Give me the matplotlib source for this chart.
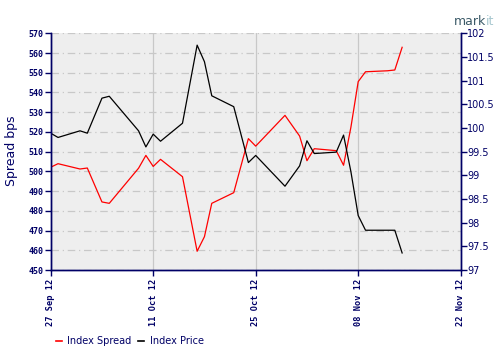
import pandas as pd
import matplotlib
matplotlib.use("Agg")
import matplotlib.pyplot as plt
import matplotlib.dates as mdates
from matplotlib.lines import Line2D

# trading dates of the visible vertices
dates = ["2012-09-27", "2012-09-28", "2012-10-01", "2012-10-02", "2012-10-04",
         "2012-10-05", "2012-10-09", "2012-10-10", "2012-10-11", "2012-10-12",
         "2012-10-15", "2012-10-17", "2012-10-18", "2012-10-19", "2012-10-22",
         "2012-10-24", "2012-10-25", "2012-10-29", "2012-10-31", "2012-11-01",
         "2012-11-02", "2012-11-05", "2012-11-06", "2012-11-07", "2012-11-08",
         "2012-11-09", "2012-11-12", "2012-11-13", "2012-11-14"]

# Index Spread (bps, left axis)
spread = [502.1, 503.9, 501.2, 501.7, 484.5, 483.8, 501.6, 508.1, 502.5, 506.1,
          497.3, 459.5, 466.9, 483.8, 489.2, 516.6, 512.8, 528.4, 517.9, 505.4,
          511.5, 510.5, 503.1, 522.3, 545.5, 550.5, 551.0, 551.4, 562.9]

# Index Price (right axis)
price = [99.89, 99.80, 99.94, 99.89, 100.63, 100.67, 99.94, 99.60, 99.87, 99.72,
         100.10, 101.75, 101.40, 100.68, 100.45, 99.27, 99.42, 98.77, 99.20, 99.73,
         99.46, 99.49, 99.85, 99.08, 98.15, 97.84, 97.84, 97.84, 97.36]

tick_dates = ["2012-09-27", "2012-10-11", "2012-10-25", "2012-11-08", "2012-11-22"]

x = pd.to_datetime(dates)
navy = "#000066"

fig = plt.figure(figsize=(5, 3.6), dpi=100)
ax = fig.add_axes([0.1014, 0.25, 0.82, 0.6575])
ax2 = ax.twinx()

ax.set_facecolor("#eeeeee")
ax.plot(x, spread, color="red", lw=0.9)
ax2.plot(x, price, color="black", lw=0.9)

ax.set_xlim(pd.Timestamp("2012-09-27"), pd.Timestamp("2012-11-22"))
ax.set_ylim(450, 570)
ax2.set_ylim(97, 102)
ax.set_yticks(range(450, 571, 10))
ax2.set_yticks([97, 97.5, 98, 98.5, 99, 99.5, 100, 100.5, 101, 101.5, 102])
ax2.set_yticklabels(["97", "97.5", "98", "98.5", "99", "99.5", "100", "100.5",
                     "101", "101.5", "102"])
ax.set_xticks(pd.to_datetime(tick_dates))
ax.xaxis.set_major_formatter(mdates.DateFormatter("%d %b %y"))

# grid
ax.yaxis.grid(True, color="#c8c8c8", linestyle=(0, (6, 3, 1, 3)), lw=0.9)
ax.xaxis.grid(True, color="#c8c8c8", linestyle="-", lw=0.9)
ax.set_axisbelow(True)

for a in (ax, ax2):
    a.spines["top"].set_visible(False)
    for s in ("left", "right", "bottom"):
        a.spines[s].set_color(navy)
        a.spines[s].set_linewidth(1.0)

ax.tick_params(axis="y", colors=navy, length=4, width=1, labelsize=6, pad=1)
ax.tick_params(axis="x", colors=navy, length=4, width=1, labelsize=6.2, pad=2,
               labelrotation=90)
ax2.tick_params(axis="y", colors=navy, length=4, width=1, labelsize=7, pad=0.5)
for lbl in ax.get_yticklabels() + ax.get_xticklabels():
    lbl.set_family("DejaVu Sans Mono")
    lbl.set_fontweight("bold")

fig.text(0.022, 0.58, "Spread bps", rotation=90, color=navy, fontsize=9,
         ha="center", va="center")

handles = [Line2D([], [], color="red", lw=1.2), Line2D([], [], color="black", lw=1.2)]
fig.legend(handles, ["Index Spread", "Index Price"], ncol=2, frameon=False,
           loc="center left", bbox_to_anchor=(0.095, 0.052), fontsize=7,
           labelcolor=navy, handlelength=0.55, handletextpad=0.6,
           columnspacing=0.7)

# logo
fig.text(0.972, 0.93, "mark", color="#3b5a68", fontsize=9, ha="right",
         va="baseline")
fig.text(0.972, 0.93, "it", color="#a8c8d0", fontsize=9, ha="left",
         va="baseline")

plt.savefig("out.png")
